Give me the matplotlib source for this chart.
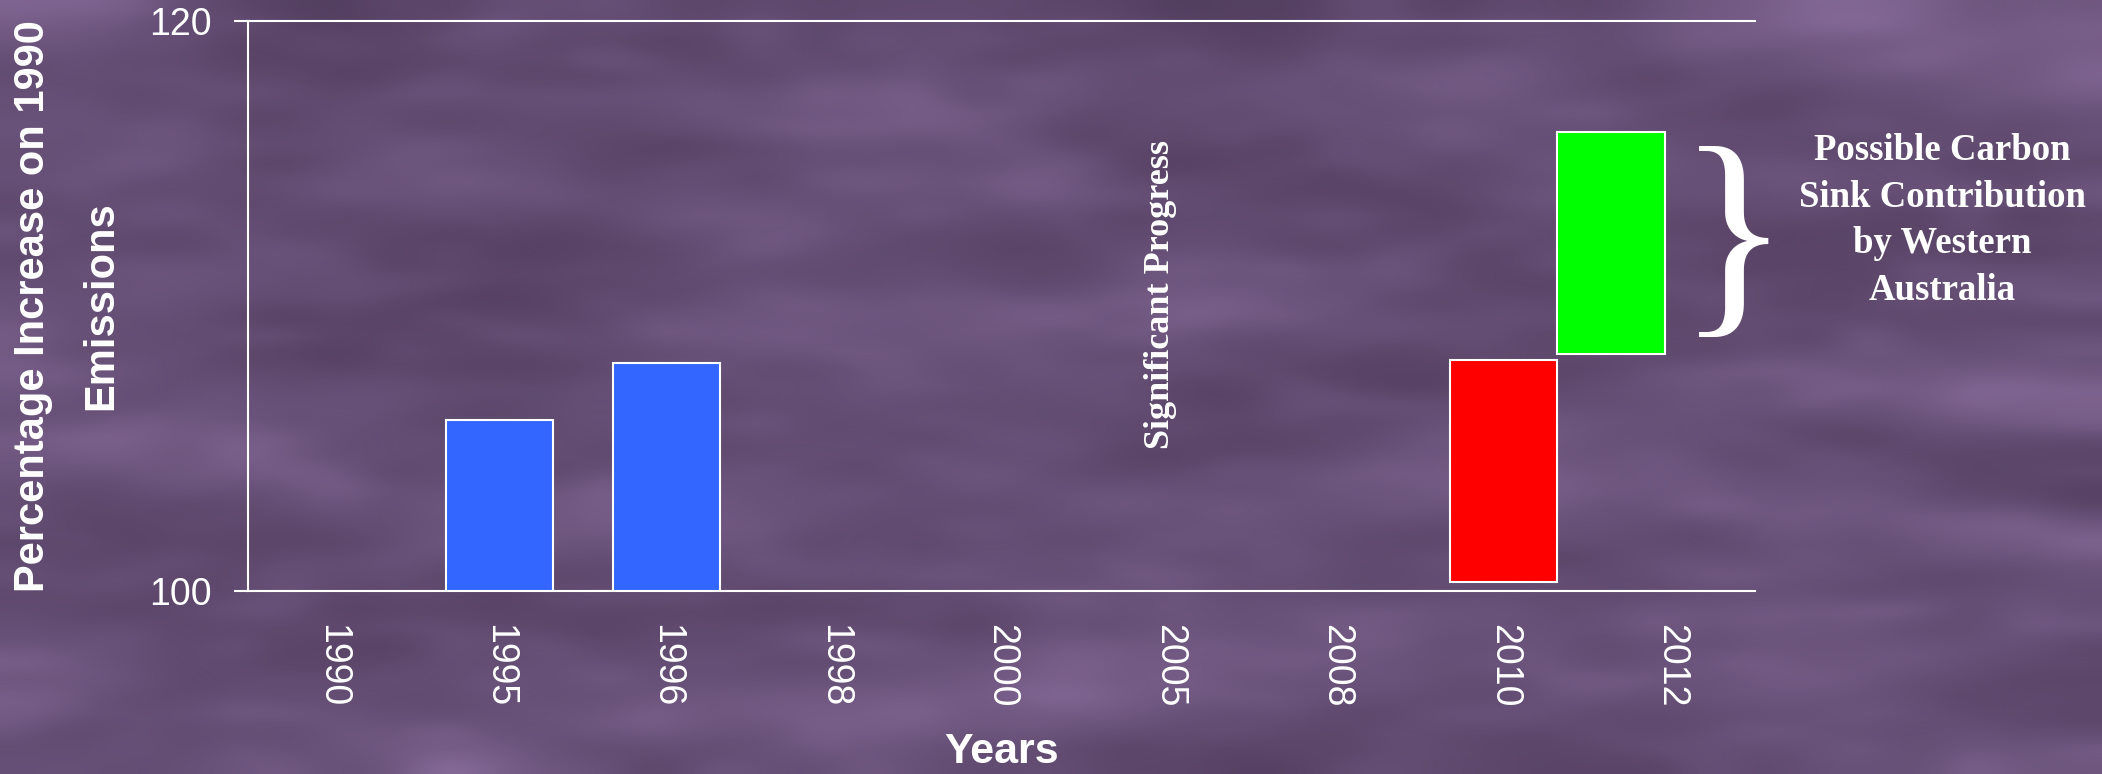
import numpy as np
import matplotlib.pyplot as plt
from matplotlib.colors import LinearSegmentedColormap

# Emissions relative to 1990 (1990 = 100)
years = ['1990', '1995', '1996', '1998', '2000', '2005', '2008', '2010', '2012']
actual_years = ['1995', '1996']
actual_values = [106.0, 108.0]
target_year = '2010'
target_base = 100.3
target_value = 108.1
sink_base = 108.3
sink_value = 116.1
y_ticks = [100, 120]

sans = 'Liberation Sans'
serif = 'Liberation Serif'
plt.rcParams['font.family'] = [sans, 'DejaVu Sans']

fig = plt.figure(figsize=(21.02, 7.74), dpi=100)
fig.patch.set_facecolor('#644e74')

# cloudy purple slide background
rng = np.random.default_rng(3)
purple = LinearSegmentedColormap.from_list('slide', ['#45334f', '#644e74', '#9678aa'])
bg = fig.add_axes([0, 0, 1, 1], zorder=-5)
bg.imshow(rng.normal(size=(18, 11)), cmap=purple, vmin=-2.2, vmax=2.2,
          interpolation='bicubic', aspect='auto', extent=(0, 1, 0, 1))
bg.imshow(rng.normal(size=(45, 40)), cmap=purple, vmin=-2.5, vmax=2.5,
          interpolation='bicubic', aspect='auto', extent=(0, 1, 0, 1), alpha=0.35)
bg.set_axis_off()

ax = fig.add_axes([248 / 2102, 1 - 591 / 774, 1507 / 2102, 570 / 774])
ax.set_facecolor('none')

pos = {y: i for i, y in enumerate(years)}
w = 0.64

ax.bar([pos[y] for y in actual_years], [v - 100 for v in actual_values], w, bottom=100,
       color='#3366ff', edgecolor='white', linewidth=1.5, zorder=3)
ax.bar(pos[target_year], target_value - target_base, w, bottom=target_base,
       color='#ff0000', edgecolor='white', linewidth=1.5, zorder=3)
# carbon sink sits beside the 2010 bar, starting where it ends
ax.bar(pos[target_year] + w, sink_value - sink_base, w, bottom=sink_base,
       color='#00ff00', edgecolor='white', linewidth=1.5, zorder=3)

ax.set_xlim(-0.5, len(years) - 0.5)
ax.set_ylim(100, 120)
ax.set_yticks(y_ticks)
ax.set_xticks(range(len(years)), years, rotation=-90)
ax.tick_params(axis='y', colors='white', length=10, width=1.5, pad=16, labelsize=27)
ax.tick_params(axis='x', colors='white', length=0, pad=24, labelsize=27)
for side in ['top', 'left', 'bottom']:
    ax.spines[side].set_color('white')
    ax.spines[side].set_linewidth(1.5)
ax.spines['right'].set_visible(False)

ax.set_xlabel('Years', fontsize=31, fontweight='bold', color='white', va='center')
ax.xaxis.set_label_coords(0.5, -0.2825)
ax.set_ylabel('Percentage Increase on 1990\nEmissions', fontsize=30, fontweight='bold',
              color='white', va='center', linespacing=1.9)
ax.yaxis.set_label_coords(-0.12, 0.5)

ax.text(pos['2005'] - 0.05, 110.4, 'Significant Progress', rotation=90, ha='center', va='center',
        family=serif, fontweight='bold', fontsize=26, color='white')
ax.text(8.37, 111.97, '}', ha='center', va='center', family=serif, fontsize=167,
        color='white', clip_on=False)
ax.text(9.62, 113.0, 'Possible Carbon\nSink Contribution\nby Western\nAustralia',
        ha='center', va='center', multialignment='center', linespacing=1.42,
        family=serif, fontweight='bold', fontsize=26.5, color='white', clip_on=False)

fig.savefig('out.png', dpi=100)
